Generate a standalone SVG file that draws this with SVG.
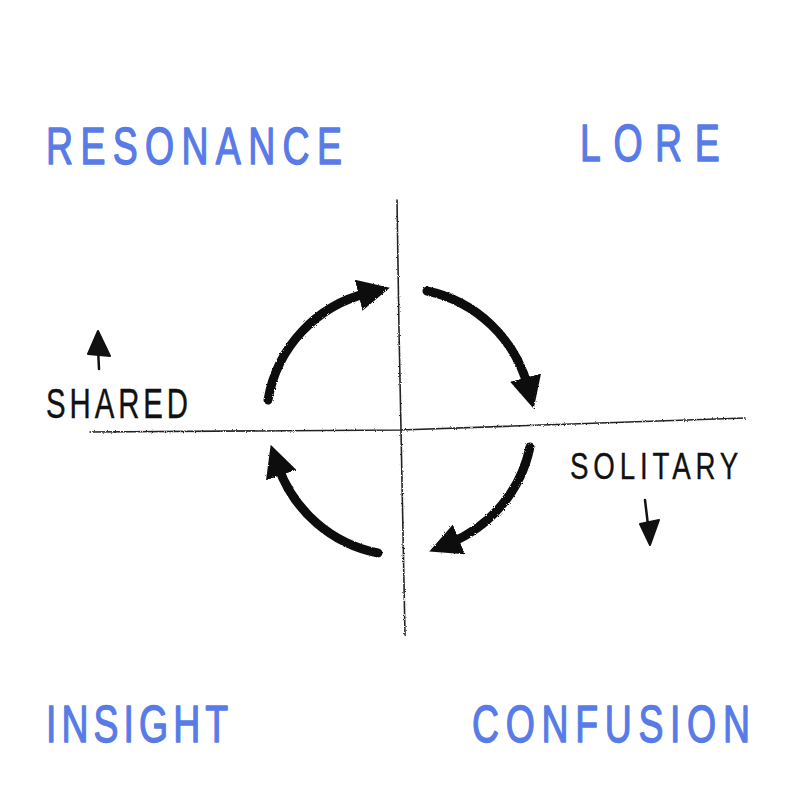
<svg xmlns="http://www.w3.org/2000/svg" width="800" height="800" viewBox="0 0 800 800">
  <defs>
    <style>
      .quad { font-family: "Liberation Sans", "DejaVu Sans", sans-serif; font-size: 52px; fill: #587be8; stroke: #587be8; stroke-width: 1.4; stroke-linejoin: round; }
      .axislabel { font-family: "Liberation Sans", "DejaVu Sans", sans-serif; font-size: 42px; fill: #111; stroke: #111; stroke-width: 0.4; }
      .axis { fill: none; stroke: #222; stroke-width: 1.6; stroke-linecap: round; }
      .cycle { fill: none; stroke: #111; stroke-width: 9; stroke-linecap: round; }
      .head { fill: #111; stroke: #111; stroke-width: 2; stroke-linejoin: round; }
      .thin { fill: none; stroke: #111; stroke-width: 2.5; stroke-linecap: round; }
    </style>
    <filter id="rough" x="-10%" y="-10%" width="120%" height="120%">
      <feTurbulence type="fractalNoise" baseFrequency="0.9" numOctaves="2" seed="3" result="n"/>
      <feDisplacementMap in="SourceGraphic" in2="n" scale="2.5"/>
    </filter>
    <marker id="arrow" viewBox="0 0 10 10" refX="3" refY="5" markerUnits="userSpaceOnUse" markerWidth="32" markerHeight="32" orient="auto">
      <path d="M0,0 L10,5 L0,10 z" fill="#111"/>
    </marker>
  </defs>
  <rect width="800" height="800" fill="#fff"/>

  <g id="resonance"><text class="quad" transform="translate(46,164) scale(0.72,1)" x="0" y="0" textLength="411" lengthAdjust="spacing">RESONANCE</text></g>
  <g id="lore"><text class="quad" transform="translate(580,161) scale(0.72,1)" x="0" y="0" textLength="194" lengthAdjust="spacing">LORE</text></g>
  <g id="insight"><text class="quad" transform="translate(46,742) scale(0.72,1)" x="0" y="0" textLength="253" lengthAdjust="spacing">INSIGHT</text></g>
  <g id="confusion"><text class="quad" transform="translate(472,742) scale(0.72,1)" x="0" y="0" textLength="386" lengthAdjust="spacing">CONFUSION</text></g>

  <g id="shared">
    <text class="axislabel" transform="translate(46,418) scale(0.7,1)" x="0" y="0" textLength="203" lengthAdjust="spacing">SHARED</text>
    <path class="thin" d="M 99 369 L 98 348"/>
    <polygon class="head" points="88,354 98,331 110,356"/>
  </g>
  <g id="solitary">
    <text class="axislabel" transform="translate(570,479) scale(0.66,0.9)" x="0" y="0" textLength="255" lengthAdjust="spacing">SOLITARY</text>
    <path class="thin" d="M 645 500 L 648 525"/>
    <polygon class="head" points="640,524 650,545 659,520"/>
  </g>

  <g id="axes" filter="url(#rough)">
    <path class="axis" d="M 397 200 L 399 330 L 401 430 L 405 635"/>
    <path class="axis" d="M 90 432 L 400 430 L 745 418"/>
  </g>

  <g id="connectors" filter="url(#rough)">
    <path class="cycle" marker-end="url(#arrow)" d="M 268 400 A 133 133 0 0 1 368 293"/>
    <path class="cycle" marker-end="url(#arrow)" d="M 427 291 A 133 133 0 0 1 528 387"/>
    <path class="cycle" marker-end="url(#arrow)" d="M 530 447 A 133 133 0 0 1 450 543"/>
    <path class="cycle" marker-end="url(#arrow)" d="M 378 553 A 133 133 0 0 1 278 466"/>
  </g>
</svg>
